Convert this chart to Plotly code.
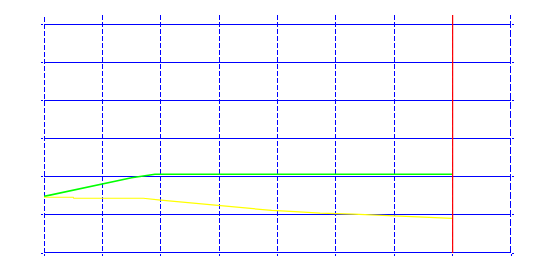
import plotly.graph_objects as go

# Data
green_x = [0, 0.5, 1.0, 1.5, 1.9, 7.0]
green_y = [1.49, 1.65, 1.82, 1.98, 2.07, 2.07]

yellow_x = [0, 0.5, 0.51, 1.7, 2.0, 2.67, 3.1, 3.5, 3.9, 4.3, 4.73, 5.3, 5.7, 6.1, 6.6, 7.0]
yellow_y = [1.466, 1.466, 1.44, 1.44, 1.39, 1.29, 1.24, 1.18, 1.12, 1.09, 1.05, 1.02, 0.99, 0.97, 0.94, 0.91]

marker_x = 7
x_ticks = [0, 1, 2, 3, 4, 5, 6, 7, 8]
y_ticks = [0, 1, 2, 3, 4, 5, 6]

BLUE = "#0000FF"
W, H = 539, 270
ML, MR, MT, MB = 44, 28, 15, 17
XR = [0, 8]
YR = [0, 6.26]
# half-pixel offsets (in data units) so that edge lines render crisp
hx = 0.5 * (XR[1] - XR[0]) / (W - ML - MR)
hy = 0.5 * (YR[1] - YR[0]) / (H - MT - MB)

fig = go.Figure()
fig.add_trace(go.Scatter(x=green_x, y=green_y, mode="lines",
                         line=dict(color="#00FF00", width=1.6), hoverinfo="skip"))
fig.add_trace(go.Scatter(x=yellow_x, y=yellow_y, mode="lines",
                         line=dict(color="#FFFF00", width=1.2), hoverinfo="skip"))

# edge lines (plotly omits gridlines at the range edges)
fig.add_shape(type="line", xref="x", yref="paper", x0=x_ticks[0] + hx, x1=x_ticks[0] + hx, y0=0, y1=1,
              line=dict(color=BLUE, width=1, dash="5px,2px"), layer="below")
fig.add_shape(type="line", xref="x", yref="paper", x0=x_ticks[-1] - hx, x1=x_ticks[-1] - hx, y0=0, y1=1,
              line=dict(color=BLUE, width=1, dash="7px,2px"), layer="below")
fig.add_shape(type="line", xref="paper", yref="y", x0=0, x1=1, y0=y_ticks[0] + hy, y1=y_ticks[0] + hy,
              line=dict(color=BLUE, width=1), layer="below")

fig.add_shape(type="line", xref="x", yref="paper", x0=marker_x, x1=marker_x, y0=0, y1=1,
              line=dict(color="#FF0000", width=1.2), layer="above")

fig.update_layout(
    width=W, height=H,
    margin=dict(l=ML, r=MR, t=MT, b=MB),
    paper_bgcolor="white", plot_bgcolor="white",
    showlegend=False,
    xaxis=dict(range=XR, tickvals=x_ticks, showticklabels=False,
               showgrid=True, gridcolor=BLUE, gridwidth=1, griddash="5px,2px",
               zeroline=False, ticks="outside", ticklen=2, tickcolor=BLUE,
               showline=False),
    yaxis=dict(range=YR, tickvals=y_ticks, showticklabels=False,
               showgrid=True, gridcolor=BLUE, gridwidth=1,
               zeroline=False, ticks="outside", ticklen=2, tickcolor=BLUE,
               mirror="ticks", showline=False),
)

fig.write_html("out.html")
